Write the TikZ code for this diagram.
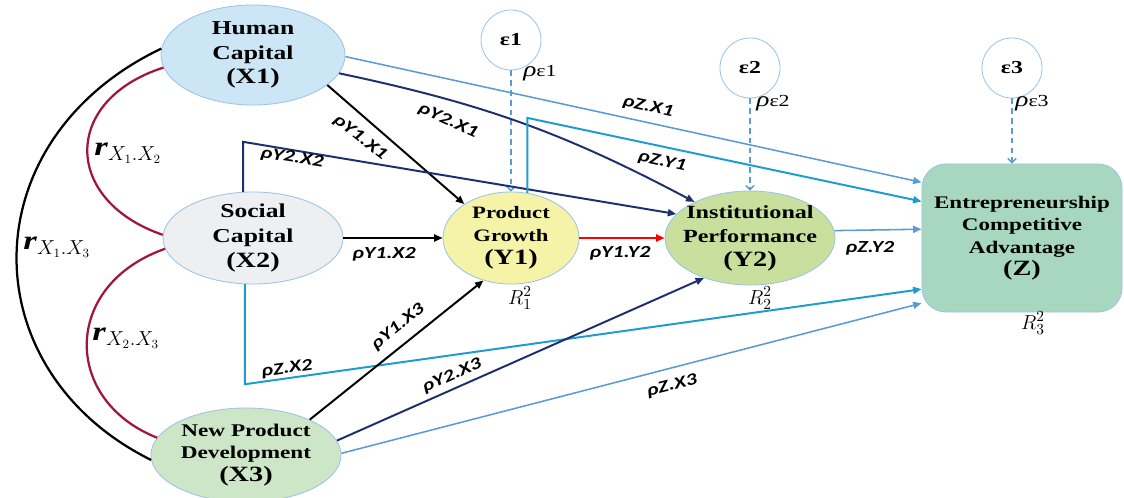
\documentclass[tikz,border=0pt]{standalone}
\usepackage{fontspec}
\setmainfont{Liberation Serif}[FakeStretch=1.3]
\newfontfamily\pathfont{Carlito}[FakeStretch=1.3]
\usetikzlibrary{arrows.meta,shapes.geometric}
\definecolor{lineblue}{HTML}{5B9BD5}
\definecolor{navy}{HTML}{1F2F6E}
\definecolor{cyanline}{HTML}{1E9BCF}
\definecolor{curvered}{HTML}{A0163C}
\definecolor{nodeedge}{HTML}{9DC3E6}
\definecolor{fillXa}{HTML}{CCE6F6}
\definecolor{fillXb}{HTML}{EEEFF1}
\definecolor{fillXc}{HTML}{CDE6C8}
\definecolor{fillYa}{HTML}{F5F3A7}
\definecolor{fillYb}{HTML}{C8DF9E}
\definecolor{fillZ}{HTML}{A7D7BE}
\tikzset{
  latent/.style args={#1/#2}{ellipse, draw=nodeedge, line width=0.6pt, inner sep=-10pt, align=center, font=\fontsize{#1}{#2}\selectfont\bfseries},
  errnode/.style={circle, draw=nodeedge, line width=0.6pt, fill=white, minimum size=1.5cm, inner sep=0pt, font=\fontsize{13}{16}\selectfont\bfseries},
  pathlbl/.style={font=\pathfont\fontsize{12}{13}\selectfont\bfseries\itshape, inner sep=1pt},
  rlbl/.style={font=\fontsize{19}{19}\selectfont, inner sep=1pt},
  rsq/.style={font=\fontsize{15}{15}\selectfont, inner sep=1pt},
  arr/.style={line width=1.4pt, -{Triangle[length=6pt,width=5pt]}},
  errarr/.style={draw=lineblue, line width=1pt, dash pattern=on 4pt off 3pt, -{Straight Barb[length=3pt,width=6pt]}},
}
\newcommand{\lastline}[1]{{\fontsize{15.5}{18}\selectfont #1}}
\begin{document}
\begin{tikzpicture}[x=0.025cm, y=-0.025cm]
  \useasboundingbox (0,0) rectangle (1124,498);
  % constructs
  \node[latent=14/17.5, fill=fillXa, minimum width=4.6cm, minimum height=2.5cm] (x1) at (253,55) {Human\\Capital\\\lastline{(X1)}};
  \node[latent=14/17.5, fill=fillXb, minimum width=4.5cm, minimum height=2.3cm] (x2) at (253,238) {Social\\Capital\\\lastline{(X2)}};
  \node[latent=12.7/16, fill=fillXc, minimum width=4.75cm, minimum height=2.35cm] (x3) at (246,455) {New Product\\Development\\\lastline{(X3)}};
  \node[latent=12.4/16.5, fill=fillYa, minimum width=3.4cm, minimum height=2.3cm] (y1) at (511,238) {Product\\Growth\\\lastline{(Y1)}};
  \node[latent=13.2/17, fill=fillYb, minimum width=4.25cm, minimum height=2.35cm] (y2) at (750,238) {Institutional\\Performance\\\lastline{(Y2)}};
  \node[rectangle, rounded corners=0.6cm, draw=nodeedge, line width=0.6pt, fill=fillZ, minimum width=5cm, minimum height=3.7cm, align=center, font=\fontsize{12.6}{16}\selectfont\bfseries] (z) at (1022,238) {Entrepreneurship\\Competitive\\Advantage\\\lastline{(Z)}};
  % error terms
  \foreach \i/\x/\y in {1/511/40,2/750/68,3/1012/68} {
    \node[errnode] (e\i) at (\x,\y) {ε\i};
  }
  \foreach \i/\x/\y in {1/540/73,2/773/103,3/1032/103} {
    \node[inner sep=1pt] (pe\i) at (\x,\y) {{\fontsize{15}{15}\selectfont\itshape ρ}{\fontsize{12}{12}\selectfont ε\i}};
  }
  \draw[errarr] (e1) -- (y1);
  \draw[errarr] (e2) -- (y2);
  \draw[errarr] (e3.south) -- (e3.south |- z.north);
  % correlations
  \draw[curvered, line width=1.6pt] (x1.188) .. controls (62,100) and (62,200) .. (x2.178);
  \draw[curvered, line width=1.6pt] (x2.187) .. controls (62,285) and (62,400) .. (x3.169);
  \draw[black, line width=1.6pt] (x1.176) .. controls (-30,140) and (-30,370) .. (x3.183);
  % paths
  \draw[arr, lineblue, line width=1.1pt] (x1.-1) -- (z.151);
  \draw[arr, navy] (x1.-12) to[bend left=8] (y2.147);
  \draw[arr, black] (x1.-22) -- (y1.144);
  \draw[arr, navy] (x2.102) -- ++(0,-50) -- (y2.162);
  \draw[arr, black] (x2.east) -- (y1.west);
  \draw[arr, cyanline] (x2.260) -- ++(0,100) -- (z.207);
  \draw[arr, red] (y1.east) -- (y2.west);
  \draw[arr, cyanline] (y1.70) -- ++(0,-75) -- (z.160);
  \draw[arr, lineblue, line width=1.1pt] (y2.5) -- (z.175);
  \draw[arr, black] (x3.29) -- (y1.237);
  \draw[arr, navy] (x3.9) -- (y2.221);
  \draw[arr, lineblue, line width=1.1pt] (x3.1) -- (z.213);
  % path labels
  \foreach \x/\y/\r/\t [count=\i] in {360/138/-38/ρY1.X1, 448/121/-24/ρY2.X1, 648/107/-12/ρZ.X1,
      292/158/-9/ρY2.X2, 662/162/-12/ρZ.Y1, 384/254/0/ρY1.X2, 620/253/0/ρY1.Y2, 870/248/0/ρZ.Y2,
      287/369/8/ρZ.X2, 398/327/39/ρY1.X3, 452/376/24/ρY2.X3, 672/386/14/ρZ.X3} {
    \node[pathlbl, rotate=\r] (lab\i) at (\x,\y) {\t};
  }
  \node[rlbl] (rxab) at (128,153) {\textbf{\textit{r}}$_{X_{1}.X_{2}}$};
  \node[rlbl] (rxac) at (57,247) {\textbf{\textit{r}}$_{X_{1}.X_{3}}$};
  \node[rlbl] (rxbc) at (126,338) {\textbf{\textit{r}}$_{X_{2}.X_{3}}$};
  \node[rsq] (rsqa) at (520,298) {$R_1^2$};
  \node[rsq] (rsqb) at (760,298) {$R_2^2$};
  \node[rsq] (rsqc) at (1033,323) {$R_3^2$};
\end{tikzpicture}
\end{document}
